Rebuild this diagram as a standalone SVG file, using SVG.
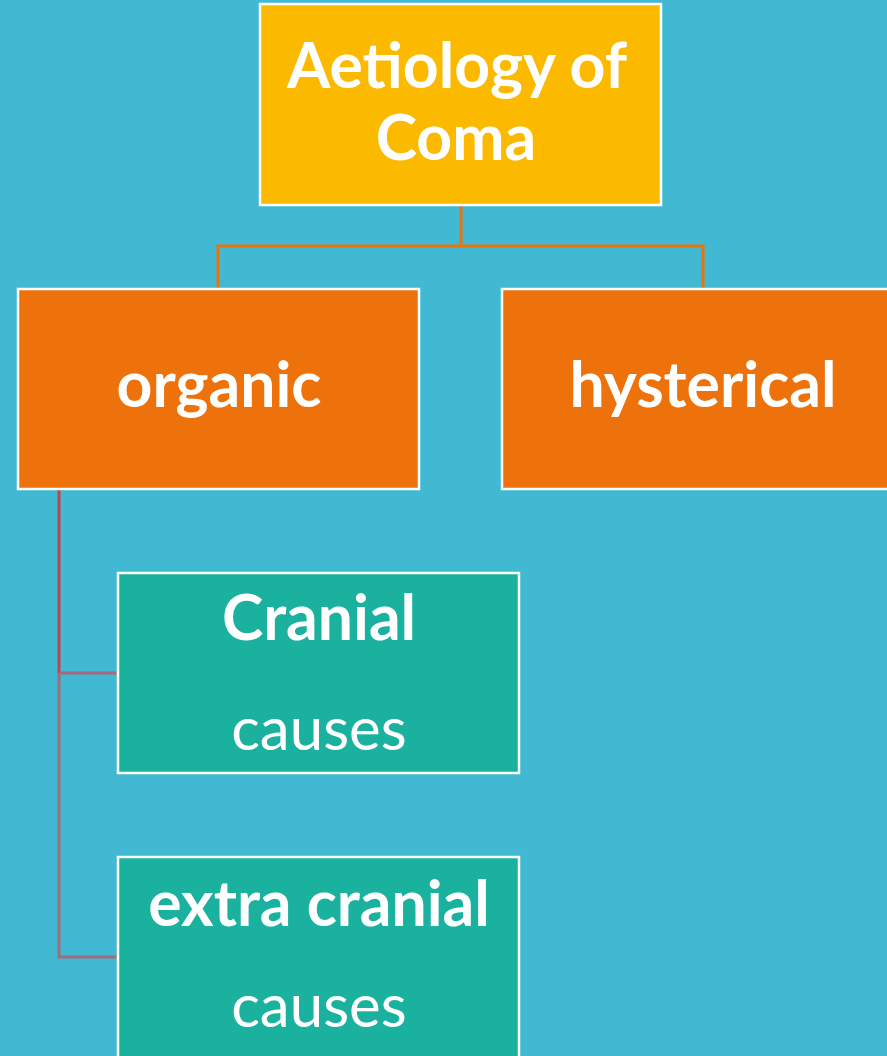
<svg xmlns="http://www.w3.org/2000/svg" width="887" height="1056" viewBox="0 0 887 1056">
<style>
.box{stroke:#FFFFFF;stroke-width:2.5}
.t{font-family:Lato,"Open Sans",sans-serif;fill:#FFFFFF;text-anchor:middle}
.b{font-weight:bold;font-size:62.5px}
.r{font-size:60px}
.c{fill:none;stroke-width:3}
</style>
<rect x="0" y="0" width="887" height="1056" fill="#41B9D3"/>
<g id="connectors">
<path class="c" d="M461,205 V246 H218 V289 M461,246 H703 V289" stroke="#EE720B" stroke-width="2.5"/>
<path class="c" d="M59,489 V673" stroke="#C4434B"/>
<path class="c" d="M59,673 V957 H118 M59,673 H118" stroke="#A36B7C"/>
</g>
<g id="node-root">
<rect class="box" x="260" y="4" width="401" height="201" fill="#FBBA00"/>
<text class="t b" x="457" y="88">Aetiology of</text>
<text class="t b" x="456" y="160">Coma</text>
</g>
<g id="node-organic">
<rect class="box" x="18" y="289" width="401" height="200" fill="#EE720B"/>
<text class="t b" x="219" y="407">organic</text>
</g>
<g id="node-hysterical">
<rect class="box" x="502" y="289" width="401" height="200" fill="#EE720B"/>
<text class="t b" x="703" y="407">hysterical</text>
</g>
<g id="node-cranial">
<rect class="box" x="118" y="573" width="401" height="200" fill="#1BB19F"/>
<text class="t b" x="319" y="640">Cranial</text>
<text class="t r" x="319" y="750">causes</text>
</g>
<g id="node-extra">
<rect class="box" x="118" y="857" width="401" height="210" fill="#1BB19F"/>
<text class="t b" x="319" y="926">extra cranial</text>
<text class="t r" x="319" y="1027">causes</text>
</g>
</svg>
